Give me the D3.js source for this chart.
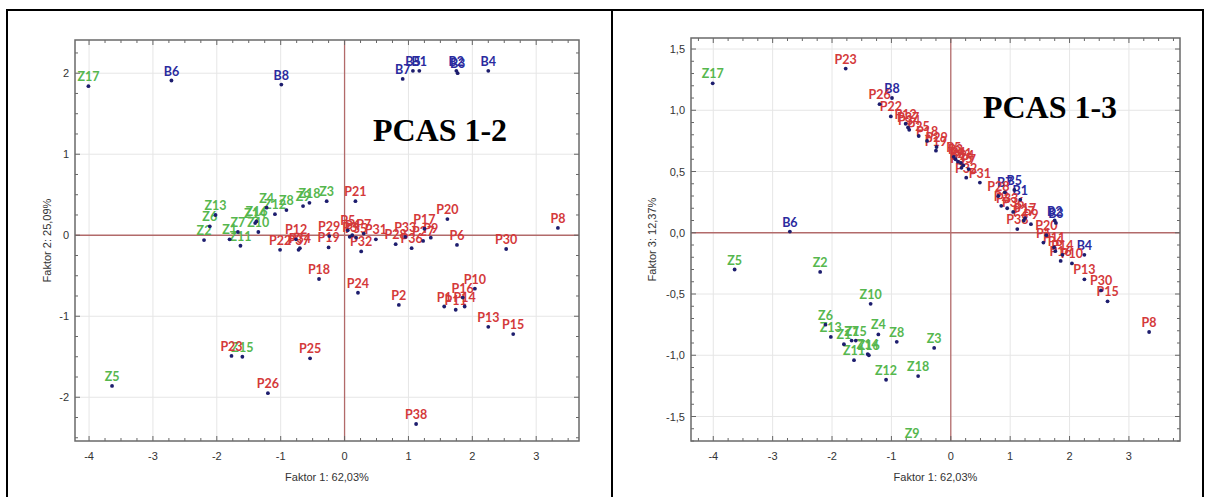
<!DOCTYPE html>
<html>
<head>
<meta charset="utf-8">
<script src="https://cdn.jsdelivr.net/npm/d3@7/dist/d3.min.js"></script>
<style>
  body { margin: 0; background: #fff; }
  svg { display: block; }
</style>
</head>
<body>
<svg width="1207" height="497"></svg>
<script>
// sample names, group is the first letter (Z, B, P)
const names = [
  'Z1','Z2','Z3','Z4','Z5','Z6','Z7','Z8','Z9','Z10','Z11','Z12','Z13','Z14','Z15','Z16','Z17','Z18',
  'B1','B2','B3','B4','B5','B6','B7','B8',
  'P1','P2','P3','P4','P5','P6','P7','P8','P9','P10','P11','P12','P13','P14','P15','P16','P17','P18','P19',
  'P20','P21','P22','P23','P24','P25','P26','P27','P28','P29','P30','P31','P32','P33','P34','P35','P36','P37','P38'
]

// Faktor 1 (62,03%)
const f1 = [
  -1.80,-2.20,-0.28,-1.22,-3.64,-2.11,-1.67,-0.91,-0.65,-1.35,-1.63,-1.09,-2.02,-1.40,-1.60,-1.38,-4.01,-0.55,
  1.17,1.75,1.77,2.25,1.07,-2.71,0.91,-0.99,
  1.56,0.85,0.08,0.12,0.05,1.76,0.30,3.34,1.35,2.04,1.74,-0.76,2.25,1.88,2.64,1.85,1.25,-0.40,-0.25,
  1.61,0.17,-1.01,-1.77,0.21,-0.54,-1.20,1.23,0.80,-0.24,2.53,0.49,0.26,0.95,-0.70,0.18,1.05,-0.72,1.12
]

// Faktor 2 (25,09%)
const f2 = [
  -0.05,-0.06,0.42,0.34,-1.86,0.11,0.04,0.31,0.36,0.04,-0.13,0.26,0.25,0.15,-1.50,0.17,1.84,0.40,
  2.03,2.03,2.00,2.03,2.03,1.91,1.93,1.86,
  -0.88,-0.86,-0.02,0.00,0.06,-0.12,0.02,0.09,-0.03,-0.66,-0.92,-0.05,-1.13,-0.88,-1.22,-0.77,0.08,-0.54,-0.15,
  0.20,0.42,-0.18,-1.49,-0.71,-1.52,-1.95,-0.07,-0.11,-0.01,-0.17,-0.05,-0.20,-0.02,-0.16,-0.03,-0.16,-0.18,-2.33
]

// Faktor 3 (12,37%)
const f3 = [
  -0.91,-0.32,-0.94,-0.83,-0.30,-0.75,-0.88,-0.89,-1.72,-0.58,-1.04,-1.20,-0.85,-0.99,-0.88,-1.00,1.22,-1.17,
  0.27,0.10,0.08,-0.18,0.35,0.01,0.33,1.10,
  -0.08,0.22,0.60,0.58,0.62,-0.15,0.52,-0.81,0.07,-0.25,-0.12,0.89,-0.38,-0.18,-0.56,-0.23,0.12,0.75,0.67,
  -0.02,0.57,0.95,1.34,0.55,0.79,1.05,0.10,0.30,0.70,-0.47,0.41,0.45,0.20,0.84,0.53,0.17,0.86,0.03
]

const xTicks = [-4, -3, -2, -1, 0, 1, 2, 3]
const yTicks12 = [-2, -1, 0, 1, 2]
const yTicks13 = [-1.5, -1, -0.5, 0, 0.5, 1, 1.5]

const groupColor = { Z: '#56b74e', B: '#2a2a9e', P: '#d4393a' }

const svg = d3.select('svg')

// table border around both pictures
svg.append('rect')
  .attr('x', 7).attr('y', 10).attr('width', 1196).attr('height', 520)
  .attr('fill', 'none').attr('stroke', '#000').attr('stroke-width', 2)
svg.append('line')
  .attr('x1', 612).attr('x2', 612).attr('y1', 10).attr('y2', 497)
  .attr('stroke', '#000').attr('stroke-width', 2)

const panels = [
  {
    id: 'p12', left: 75, right: 579, top: 40, bottom: 441,
    xDomain: [-4.22, 3.67], yDomain: [-2.54, 2.41],
    yValues: f2, yTicks: yTicks12, yMinor: 0.25,
    yFmt: d => String(d),
    yTitle: 'Faktor 2: 25,09%', yTitleX: 47,
    title: 'PCAS 1-2', titleX: 440, titleY: 141
  },
  {
    id: 'p13', left: 691, right: 1180, top: 38, bottom: 441,
    xDomain: [-4.375, 3.86], yDomain: [-1.70, 1.59],
    yValues: f3, yTicks: yTicks13, yMinor: 0.1,
    yFmt: d => d.toFixed(1).replace('.', ','),
    yTitle: 'Faktor 3: 12,37%', yTitleX: 652,
    title: 'PCAS 1-3', titleX: 1050, titleY: 118
  }
]

panels.forEach(drawPanel)

function drawPanel(p) {
  const x = d3.scaleLinear().domain(p.xDomain).range([p.left, p.right])
  const y = d3.scaleLinear().domain(p.yDomain).range([p.bottom, p.top])
  const g = svg.append('g')

  g.append('clipPath').attr('id', 'clip-' + p.id)
    .append('rect')
    .attr('x', p.left).attr('y', p.top)
    .attr('width', p.right - p.left).attr('height', p.bottom - p.top)

  // light grid at the major ticks
  g.selectAll('.vgrid').data(xTicks.filter(d => d !== 0)).enter()
    .append('line')
    .attr('x1', d => x(d)).attr('x2', d => x(d))
    .attr('y1', p.top).attr('y2', p.bottom)
    .attr('stroke', '#e6e6e6').attr('stroke-width', 1)
  g.selectAll('.hgrid').data(p.yTicks.filter(d => d !== 0)).enter()
    .append('line')
    .attr('x1', p.left).attr('x2', p.right)
    .attr('y1', d => y(d)).attr('y2', d => y(d))
    .attr('stroke', '#e6e6e6').attr('stroke-width', 1)

  // zero lines
  g.append('line')
    .attr('x1', x(0)).attr('x2', x(0)).attr('y1', p.top).attr('y2', p.bottom)
    .attr('stroke', '#b26a6a').attr('stroke-width', 1.3)
  g.append('line')
    .attr('x1', p.left).attr('x2', p.right).attr('y1', y(0)).attr('y2', y(0))
    .attr('stroke', '#b26a6a').attr('stroke-width', 1.3)

  // inward ticks on all four sides
  const xMinor = d3.range(Math.ceil(p.xDomain[0] * 4) / 4, p.xDomain[1], 0.25)
  const yMinor = d3.range(Math.ceil(p.yDomain[0] / p.yMinor) * p.yMinor, p.yDomain[1], p.yMinor)
  const isMajor = (v, list) => list.some(t => Math.abs(t - v) < 1e-6)

  xMinor.forEach(v => {
    const len = isMajor(v, xTicks) ? 5 : 3
    const xx = x(v)
    g.append('line').attr('x1', xx).attr('x2', xx).attr('y1', p.bottom).attr('y2', p.bottom - len)
      .attr('stroke', '#666').attr('stroke-width', 1)
    g.append('line').attr('x1', xx).attr('x2', xx).attr('y1', p.top).attr('y2', p.top + len)
      .attr('stroke', '#666').attr('stroke-width', 1)
  })
  yMinor.forEach(v => {
    const len = isMajor(v, p.yTicks) ? 5 : 3
    const yy = y(v)
    g.append('line').attr('x1', p.left).attr('x2', p.left + len).attr('y1', yy).attr('y2', yy)
      .attr('stroke', '#666').attr('stroke-width', 1)
    g.append('line').attr('x1', p.right).attr('x2', p.right - len).attr('y1', yy).attr('y2', yy)
      .attr('stroke', '#666').attr('stroke-width', 1)
  })

  // frame
  g.append('rect')
    .attr('x', p.left).attr('y', p.top)
    .attr('width', p.right - p.left).attr('height', p.bottom - p.top)
    .attr('fill', 'none').attr('stroke', '#6a6a6a').attr('stroke-width', 1.5)

  // tick labels
  g.selectAll('.xlab').data(xTicks).enter()
    .append('text')
    .attr('x', d => x(d)).attr('y', p.bottom + 19)
    .attr('text-anchor', 'middle')
    .attr('font-family', 'Liberation Sans, Arial, sans-serif')
    .attr('font-size', 11).attr('fill', '#333')
    .text(d => String(d))
  g.selectAll('.ylab').data(p.yTicks).enter()
    .append('text')
    .attr('x', p.left - 6).attr('y', d => y(d) + 4)
    .attr('text-anchor', 'end')
    .attr('font-family', 'Liberation Sans, Arial, sans-serif')
    .attr('font-size', 11).attr('fill', '#333')
    .text(p.yFmt)

  // axis titles
  g.append('text')
    .attr('x', (p.left + p.right) / 2).attr('y', p.bottom + 40)
    .attr('text-anchor', 'middle')
    .attr('font-family', 'Liberation Sans, Arial, sans-serif')
    .attr('font-size', 11).attr('fill', '#333')
    .text('Faktor 1: 62,03%')
  g.append('text')
    .attr('transform', 'translate(' + (p.yTitleX + 4) + ',' + ((p.top + p.bottom) / 2) + ') rotate(-90)')
    .attr('text-anchor', 'middle')
    .attr('font-family', 'Liberation Sans, Arial, sans-serif')
    .attr('font-size', 11).attr('fill', '#333')
    .text(p.yTitle)

  const pts = names.map((n, i) => ({ name: n, grp: n[0], x: f1[i], y: p.yValues[i] }))

  // point labels, then dots on top
  g.selectAll('.plab').data(pts).enter()
    .append('text')
    .attr('x', d => x(d.x)).attr('y', d => y(d.y) - 5)
    .attr('text-anchor', 'middle')
    .attr('font-family', 'Lato, Open Sans, sans-serif')
    .attr('font-weight', 'bold')
    .attr('font-size', 12.5)
    .attr('fill', d => groupColor[d.grp])
    .text(d => d.name)

  g.append('g').attr('clip-path', 'url(#clip-' + p.id + ')')
    .selectAll('circle').data(pts).enter()
    .append('circle')
    .attr('cx', d => x(d.x)).attr('cy', d => y(d.y))
    .attr('r', 1.9)
    .attr('fill', '#1d1d6e')

  // panel caption
  g.append('text')
    .attr('x', p.titleX).attr('y', p.titleY)
    .attr('text-anchor', 'middle')
    .attr('font-family', 'Liberation Serif, Times New Roman, serif')
    .attr('font-weight', 'bold')
    .attr('font-size', 32).attr('fill', '#000')
    .text(p.title)
}
</script>
</body>
</html>
